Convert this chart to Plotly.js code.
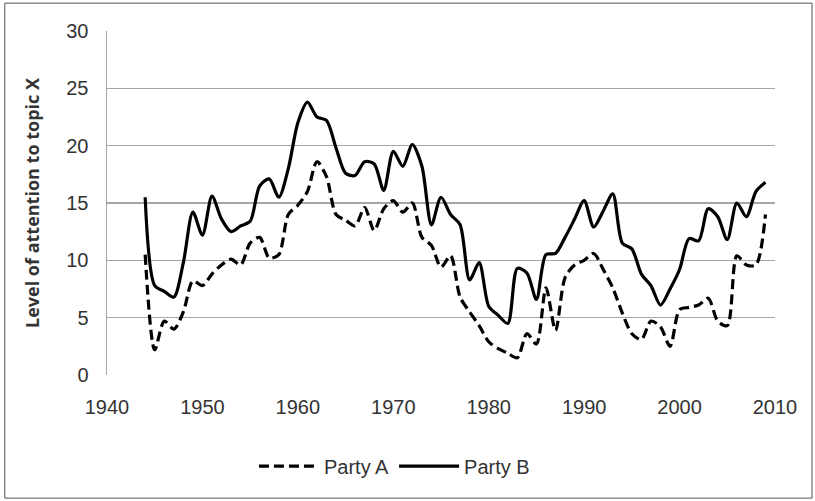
<!DOCTYPE html>
<html>
<head>
<meta charset="utf-8">
<script src="https://cdn.plot.ly/plotly-3.0.1.min.js"></script>
<style>
html,body{margin:0;padding:0;background:#fff;}
#chart{width:815px;height:501px;}
</style>
</head>
<body>
<div id="chart"></div>
<script>
var years = [1944,1945,1946,1947,1948,1949,1950,1951,1952,1953,1954,1955,1956,1957,1958,1959,1960,1961,1962,1963,1964,1965,1966,1967,1968,1969,1970,1971,1972,1973,1974,1975,1976,1977,1978,1979,1980,1981,1982,1983,1984,1985,1986,1987,1988,1989,1990,1991,1992,1993,1994,1995,1996,1997,1998,1999,2000,2001,2002,2003,2004,2005,2006,2007,2008,2009];

var partyA = [10.5,2.2,4.7,4.0,5.5,8.2,7.8,8.8,9.6,10.1,9.6,11.5,12.0,10.2,10.5,14.0,14.8,16.0,18.6,17.3,14.0,13.5,13.0,14.6,12.6,14.5,15.2,14.2,15.0,12.0,11.3,9.4,10.4,6.8,5.5,4.3,2.9,2.3,1.9,1.5,3.6,2.7,7.6,3.9,8.5,9.6,10.0,10.6,9.2,7.6,5.4,3.6,3.1,4.7,4.2,2.5,5.7,5.9,6.1,6.7,4.7,4.3,10.4,9.6,9.6,14.0];

var partyB = [15.5,7.8,7.3,6.8,9.8,14.2,12.2,15.6,13.6,12.5,13.0,13.4,16.5,17.1,15.5,18.0,22.0,23.8,22.5,22.2,19.8,17.6,17.4,18.6,18.4,16.1,19.5,18.2,20.1,18.2,13.1,15.5,14.0,13.1,8.3,9.8,6.0,5.2,4.5,9.3,8.9,6.6,10.5,10.6,12.0,13.6,15.2,12.9,14.3,15.8,11.5,11.0,8.8,7.8,6.1,7.5,9.2,11.9,11.7,14.5,13.8,11.8,15.0,13.8,16.0,16.8];

var seriesNames = ["Party A", "Party B"];
var xTicks = [1940,1950,1960,1970,1980,1990,2000,2010];
var yTicks = [0,5,10,15,20,25,30];
var yTitle = "Level of attention to topic X";

var traces = [
  {x: years, y: partyA, name: seriesNames[0], type: 'scatter', mode: 'lines',
   line: {color: '#000', width: 3.2, dash: '10px,5px', shape: 'spline', smoothing: 0.8}},
  {x: years, y: partyB, name: seriesNames[1], type: 'scatter', mode: 'lines',
   line: {color: '#000', width: 3.2, shape: 'spline', smoothing: 0.8}}
];

var gridC = '#a6a6a6';
var tickFont = {family: 'Liberation Sans Narrow, Liberation Sans, Arial, sans-serif', color: '#333', size: 20};
var layout = {
  width: 815, height: 501,
  margin: {l: 107, r: 40, t: 31, b: 126},
  paper_bgcolor: '#fff', plot_bgcolor: '#fff',
  font: tickFont,
  showlegend: true,
  legend: {orientation: 'h', x: 0.22, xanchor: 'left', y: -0.265, yanchor: 'middle',
           font: tickFont, bgcolor: 'rgba(0,0,0,0)', itemwidth: 60, traceorder: 'normal'},
  xaxis: {range: [1940, 2010], tickvals: xTicks, ticktext: xTicks.map(String), tickfont: tickFont,
          showgrid: false, zeroline: false, showline: false, ticks: '',
          ticklabelstandoff: 18, fixedrange: true},
  yaxis: {range: [0, 30], tickvals: yTicks, tickfont: tickFont, showgrid: true, gridcolor: gridC, gridwidth: 1.5,
          zeroline: false, showline: true, linecolor: gridC, linewidth: 1.5, ticks: '',
          ticklabelstandoff: 13,
          title: {text: yTitle, font: {size: 18, color: '#333', family: 'Open Sans, DejaVu Sans, sans-serif', weight: 'bold'}, standoff: 22},
          fixedrange: true},
  shapes: [
    {type: 'rect', xref: 'paper', yref: 'paper', x0: -0.153, x1: 1.0554, y0: -0.358, y1: 1.081,
     line: {color: '#555', width: 1}, fillcolor: 'rgba(0,0,0,0)', layer: 'below'}
  ]
};

Plotly.newPlot('chart', traces, layout, {displayModeBar: false, staticPlot: true});
</script>
</body>
</html>
